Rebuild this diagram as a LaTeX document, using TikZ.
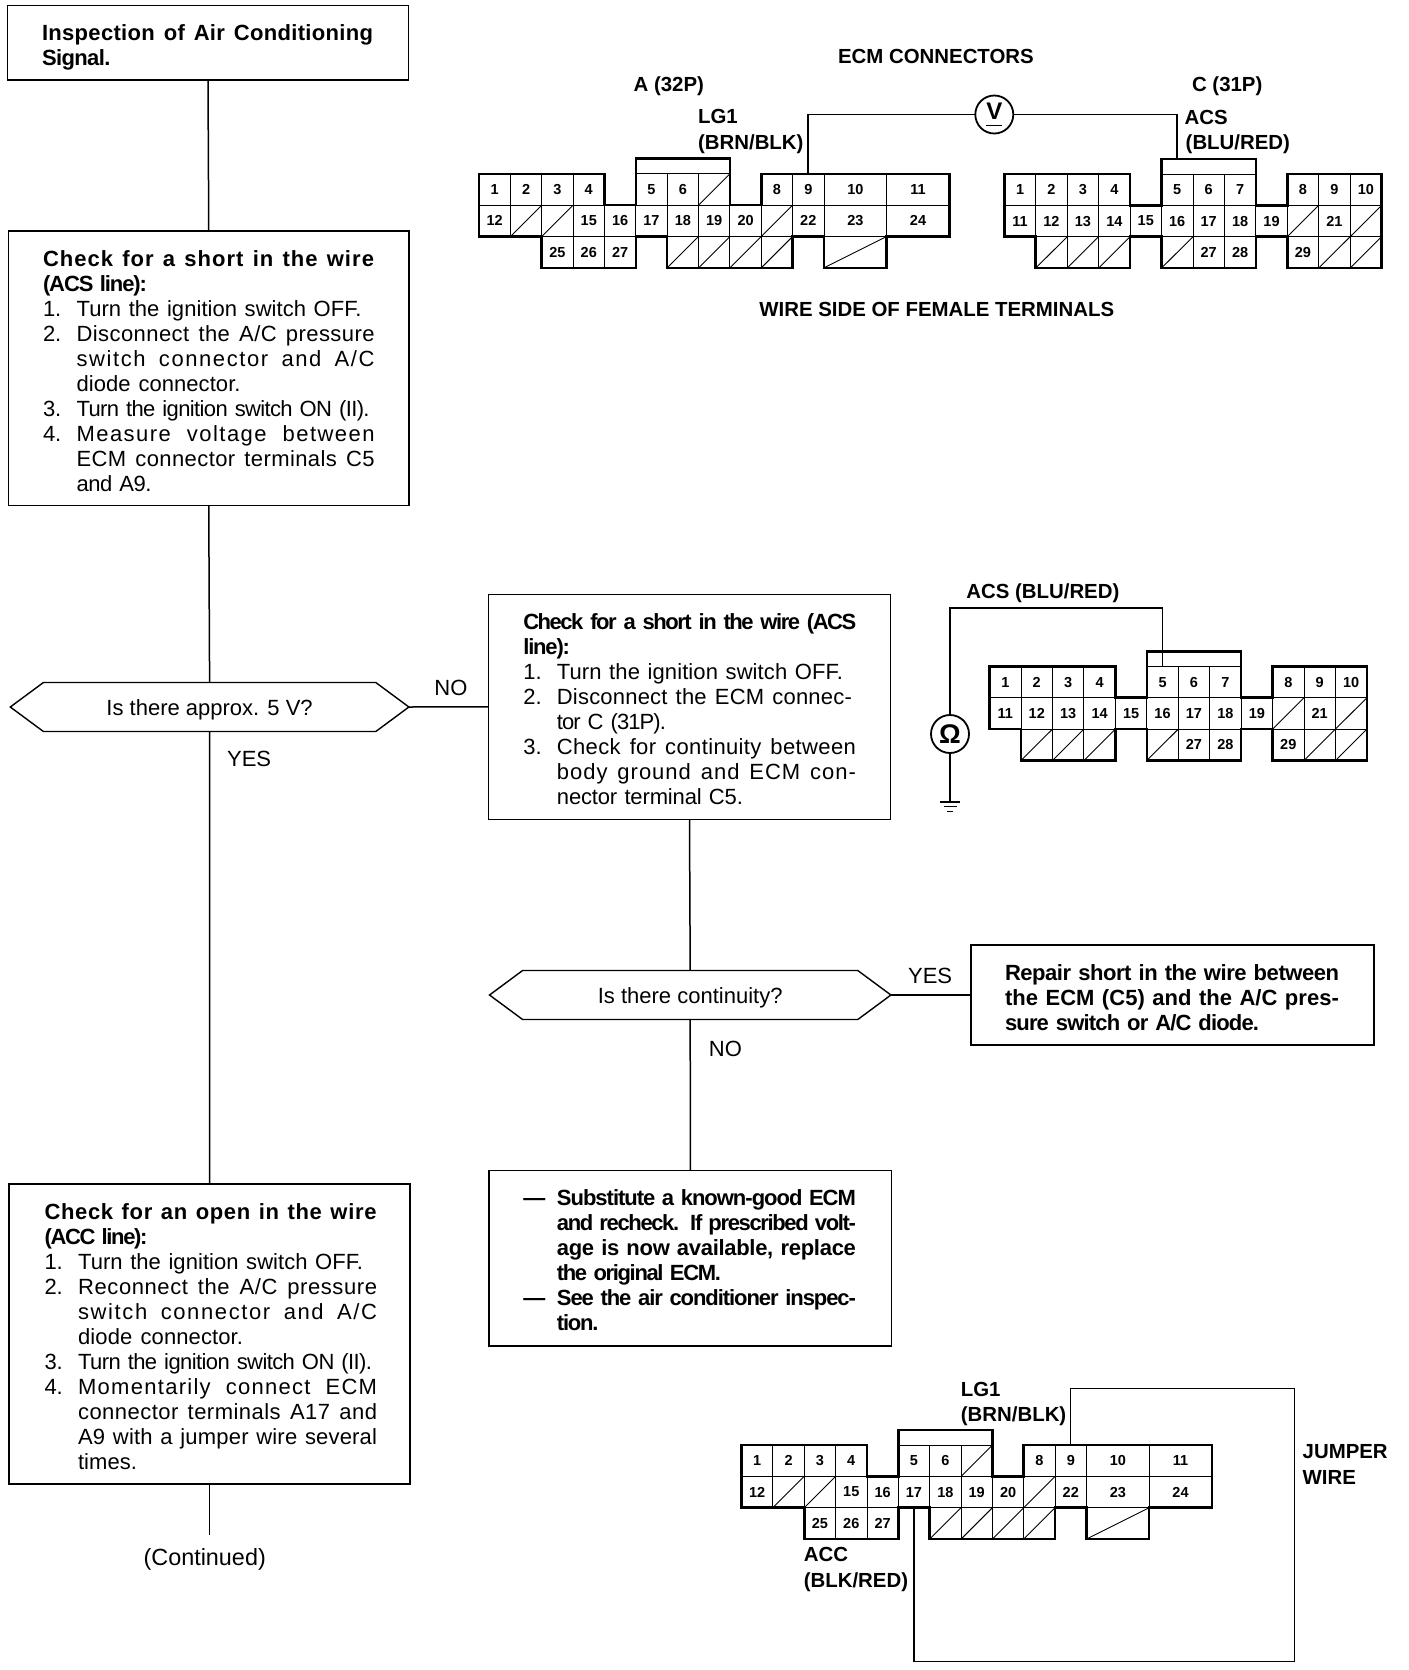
\documentclass[tikz,border=0pt]{standalone}
\usepackage{fontspec}
\setmainfont{Liberation Sans}
\usetikzlibrary{shapes.symbols}

\newcommand{\bodyfont}{\fontsize{11}{12.5}\selectfont}
\newcommand{\labelfont}{\bfseries\fontsize{10.2}{12.5}\selectfont}
\newlength\fitnat
\newlength\fitwide
\newlength\numwd
\setlength\numwd{16.8pt}
% one printed line, spaced out to a width in pixels: part in the letters, the rest in the word gaps
\newcommand{\fitline}[2]{\leavevmode
  \settowidth\fitnat{#2}%
  \settowidth\fitwide{\addfontfeature{LetterSpace=5}#2}%
  \pgfmathsetmacro\fitls{5*(#1*0.5-\fitnat)/(\fitwide-\fitnat)}%
  \pgfmathsetmacro\fitls{\fitls>0 ? 0.6*\fitls : 0.9*\fitls}%
  \hbox to #1\dimexpr 0.5pt\relax{\addfontfeature{LetterSpace=\fitls}\spaceskip=0.278em plus 1fil minus 1fil\relax #2}}
\newcommand{\numline}[3]{\leavevmode\makebox[\numwd][l]{#1}\fitline{#2}{#3}}
\newcommand{\contline}[2]{\leavevmode\hspace*{\numwd}\fitline{#1}{#2}}
\newcommand{\dashline}[2]{\leavevmode\makebox[\numwd][l]{—}\fitline{#1}{#2}}
\newcommand{\topgap}{\leavevmode\rule{0pt}{17.5pt}}
\newcommand{\botgap}[1]{\rule[-#1]{0pt}{#1}}

\tikzset{
  flowbox/.style={draw,line width=0.75pt,anchor=north west,inner ysep=0pt,outer sep=0pt,align=left,font=\bodyfont},
  decision/.style={draw,line width=0.7pt,shape=signal,signal to=west and east,signal pointer angle=73,
    minimum height=24.5pt,inner sep=0pt,outer sep=0pt,text height=8pt,text depth=0pt,font=\bodyfont},
  flowline/.style={line width=0.75pt},
  edgelabel/.style={anchor=base west,inner sep=0pt,font=\bodyfont},
  wirelabel/.style={anchor=base west,inner sep=0pt,font=\labelfont},
  meter/.style={draw,circle,line width=0.9pt,minimum size=19pt,inner sep=0pt,outer sep=0pt},
  wire/.style={line width=0.85pt},
  jumper/.style={line width=0.55pt},
  cellline/.style={line width=0.45pt},
  shell/.style={line width=1.3pt,line join=miter},
  pinlabel/.style={inner sep=0pt,font=\bfseries\fontsize{7.25}{8}\selectfont},
}

% connector A (32P)
\newcommand{\connA}[2]{%
  \begin{scope}[shift={#1},name prefix=#2-,x=15.68pt,y=-15.68pt]
    \draw[cellline] (0,1) -- (15,1);\draw[cellline] (5,0) -- (8,0);\draw[cellline] (2,2) -- (13,2);
    \foreach \c/\a/\b in {1/0/2,2/0/2,3/0/3,4/1/3,5/0/2,6/0/2,7/0/3,8/1/3,9/1/3,10/0/2,11/0/2,13/0/2}
      \draw[cellline] (\c,\a) -- (\c,\b);
    % crossed out cells
    \foreach \c/\r in {7/0,1/1,2/1,9/1,6/2,7/2,8/2,9/2}
      \draw[cellline] (\c,\r+1) -- (\c+1,\r);
    \draw[cellline] (11,3) -- (13,2);
    \draw[shell] (0,0) -- (4,0) -- (4,1) -- (5,1) -- (5,-0.48) -- (8,-0.48) -- (8,1) -- (9,1) -- (9,0) -- (15,0)
      -- (15,2) -- (13,2) -- (13,3) -- (11,3) -- (11,2) -- (10,2) -- (10,3) -- (6,3) -- (6,2) -- (5,2)
      -- (5,3) -- (2,3) -- (2,2) -- (0,2) -- cycle;
    % numbers
    \foreach \c/\r/\t in {0/0/1,1/0/2,2/0/3,3/0/4,5/0/5,6/0/6,9/0/8,10/0/9,11.5/0/10,13.5/0/11,
      0/1/12,3/1/15,4/1/16,5/1/17,6/1/18,7/1/19,8/1/20,10/1/22,11.5/1/23,13.5/1/24,2/2/25,3/2/26,4/2/27}
      \node[pinlabel] (c\t) at (\c+0.5,\r+0.5) {\t};
    \coordinate (pin9) at (10.5,0);
    \coordinate (pin17) at (5.5,2);
  \end{scope}}

% connector C (31P)
\newcommand{\connC}[2]{%
  \begin{scope}[shift={#1},name prefix=#2-,x=15.72pt,y=-15.68pt]
    \draw[cellline] (0,1) -- (12,1);\draw[cellline] (5,0) -- (8,0);\draw[cellline] (1,2) -- (12,2);
    \foreach \c/\a/\b in {1/0/2,2/0/3,3/0/3,4/1/2,5/1/2,6/0/3,7/0/3,8/1/2,9/1/2,10/0/3,11/0/3}
      \draw[cellline] (\c,\a) -- (\c,\b);
    % crossed out cells
    \foreach \c/\r in {9/1,11/1,1/2,2/2,3/2,5/2,10/2,11/2}
      \draw[cellline] (\c,\r+1) -- (\c+1,\r);
    \draw[shell] (0,0) -- (4,0) -- (4,1) -- (5,1) -- (5,-0.48) -- (8,-0.48) -- (8,1) -- (9,1) -- (9,0) -- (12,0)
      -- (12,3) -- (9,3) -- (9,2) -- (8,2) -- (8,3) -- (5,3) -- (5,2) -- (4,2) -- (4,3) -- (1,3) -- (1,2) -- (0,2) -- cycle;
    % numbers
    \foreach \c/\r/\t in {0/0/1,1/0/2,2/0/3,3/0/4,5/0/5,6/0/6,7/0/7,9/0/8,10/0/9,11/0/10,
      0/1/11,1/1/12,2/1/13,3/1/14,4/1/15,5/1/16,6/1/17,7/1/18,8/1/19,10/1/21,6/2/27,7/2/28,9/2/29}
      \node[pinlabel] (c\t) at (\c+0.5,\r+0.5) {\t};
    \coordinate (pin5) at (5.5,0);
    \coordinate (bump5) at (5.5,-0.48);
  \end{scope}}

\begin{document}
\begin{tikzpicture}[x=0.5pt,y=-0.5pt]
  \useasboundingbox (0,0) rectangle (1408,1670);

  % left column
  \node[flowbox,inner xsep=17.25pt,text width=166pt] (title) at (7.5,5.5)
    {\bfseries\topgap\fitline{331}{Inspection of Air Conditioning}\\\fitline{68}{Signal.}\botgap{7.25pt}};
  \node[flowbox,inner xsep=17.25pt,text width=165.75pt] (shortacs) at (8.5,231)
    {\topgap\textbf{\fitline{331}{Check for a short in the wire}}\\
     \textbf{\fitline{104}{(ACS line):}}\\
     \numline{1.}{285}{Turn the ignition switch OFF.}\\
     \numline{2.}{298}{Disconnect the A/C pressure}\\
     \contline{298}{switch connector and A/C}\\
     \contline{164}{diode connector.}\\
     \numline{3.}{293}{Turn the ignition switch ON (II).}\\
     \numline{4.}{298}{Measure voltage between}\\
     \contline{298}{ECM connector terminals C5}\\
     \contline{75}{and A9.}\botgap{7.25pt}};
  \node[decision,minimum width=199.3pt] (approx) at (209.6,707) {Is there approx. 5 V?};
  \node[flowbox,inner xsep=17.75pt,text width=165pt] (openacc) at (9,1184)
    {\topgap\textbf{\fitline{332}{Check for an open in the wire}}\\
     \textbf{\fitline{103}{(ACC line):}}\\
     \numline{1.}{285}{Turn the ignition switch OFF.}\\
     \numline{2.}{299}{Reconnect the A/C pressure}\\
     \contline{299}{switch connector and A/C}\\
     \contline{165}{diode connector.}\\
     \numline{3.}{294}{Turn the ignition switch ON (II).}\\
     \numline{4.}{299}{Momentarily connect ECM}\\
     \contline{299}{connector terminals A17 and}\\
     \contline{299}{A9 with a jumper wire several}\\
     \contline{59}{times.}\botgap{7.5pt}};
  \coordinate (stub) at (209.5,1535);
  \node[anchor=base,inner sep=0pt,font=\fontsize{11.7}{14}\selectfont] (continued) at (204.7,1565) {(Continued)};

  \draw[flowline] (title.south) -- (shortacs.north);
  \draw[flowline] (shortacs.south) -- (approx.north);
  \draw[flowline] (approx.south) -- (openacc.north);
  \draw[flowline] (openacc.south) -- (stub);
  \node[edgelabel] (yesone) at (226.7,766.7) {YES};
  \node[edgelabel] (noone) at (434,695.7) {NO};

  % middle column
  \node[flowbox,inner xsep=17.5pt,text width=166.2pt] (shortecm) at (488.3,594.3)
    {\topgap\textbf{\fitline{333}{Check for a short in the wire (ACS}}\\
     \textbf{\fitline{46}{line):}}\\
     \numline{1.}{286}{Turn the ignition switch OFF.}\\
     \numline{2.}{295}{Disconnect the ECM connec-}\\
     \contline{109}{tor C (31P).}\\
     \numline{3.}{299}{Check for continuity between}\\
     \contline{299}{body ground and ECM con-}\\
     \contline{186}{nector terminal C5.}\botgap{7.5pt}};
  \node[decision,minimum width=200.7pt] (contin) at (690.2,995) {Is there continuity?};
  \node[flowbox,inner xsep=17.1pt,text width=167.3pt] (repair) at (970.8,945)
    {\bfseries\topgap\fitline{334}{Repair short in the wire between}\\
     \fitline{334}{the ECM (C5) and the A/C pres-}\\
     \fitline{254}{sure switch or A/C diode.}\botgap{7.5pt}};
  \node[flowbox,inner xsep=17.15pt,text width=167.05pt] (substitute) at (489,1170.7)
    {\bfseries\topgap\dashline{299}{Substitute a known-good ECM}\\
     \contline{299}{and recheck. If prescribed volt-}\\
     \contline{299}{age is now available, replace}\\
     \contline{164}{the original ECM.}\\
     \dashline{299}{See the air conditioner inspec-}\\
     \contline{41}{tion.}\botgap{7.65pt}};

  \draw[flowline] (approx.east) -- (shortecm.west);
  \draw[flowline] (shortecm.south) -- (contin.north);
  \draw[flowline] (contin.east) -- (repair.west);
  \draw[flowline] (contin.south) -- (substitute.north);
  \node[edgelabel] (yestwo) at (907.7,983) {YES};
  \node[edgelabel] (notwo) at (708.5,1056) {NO};

  % ecm connectors, top
  \connA{(479,173.8)}{topa}
  \connC{(1004.3,174)}{topc}
  \node[meter,font=\bfseries\fontsize{12}{14}\selectfont] (vmeter) at (994.3,114.5) {\underline{V\rule[-1.5pt]{0pt}{0pt}}};
  \draw[wire] (topa-pin9) |- (vmeter.west);
  \draw[wire] (vmeter.east) -| (topc-bump5);
  \node[wirelabel] (ecmtitle) at (837.7,63.3) {ECM CONNECTORS};
  \node[wirelabel] (atitle) at (633.3,91) {A (32P)};
  \node[wirelabel] (ctitle) at (1191.7,91) {C (31P)};
  \node[wirelabel] (lgone) at (697.7,123.3) {LG1};
  \node[wirelabel] (lgonecol) at (697.7,149) {(BRN/BLK)};
  \node[wirelabel] (acs) at (1184.3,124.3) {ACS};
  \node[wirelabel] (acscol) at (1185.3,149) {(BLU/RED)};
  \node[wirelabel] (wireside) at (759,316.7) {WIRE SIDE OF FEMALE TERMINALS};

  % continuity check
  \connC{(989.6,666.4)}{mid}
  \node[meter,font=\bfseries\fontsize{13.5}{15}\selectfont] (ohm) at (950,734) {Ω};
  \coordinate (gnd) at (950,801.7);
  \draw[wire] (mid-pin5) |- (950,608.3) -- (ohm.north);
  \draw[wire] (ohm.south) -- (gnd);
  \draw[wire] (940,801.7) -- (960,801.7);
  \draw[wire] (943.5,806.5) -- (956.5,806.5);
  \draw[wire] (947,811.5) -- (953,811.5);
  \node[wirelabel] (acsmid) at (966,598.5) {ACS (BLU/RED)};

  % jumper wire
  \connA{(741.5,1445)}{bot}
  \coordinate (jumpne) at (1294.8,1388.3);
  \coordinate (jumpse) at (1294.8,1661.7);
  \draw[jumper] (bot-pin9) |- (jumpne) -- (jumpse) -| (bot-pin17);
  \node[wirelabel] (lgbot) at (960.5,1396) {LG1};
  \node[wirelabel] (lgbotcol) at (960.5,1421.7) {(BRN/BLK)};
  \node[wirelabel] (acc) at (803.4,1561.7) {ACC};
  \node[wirelabel] (acccol) at (803.4,1587.3) {(BLK/RED)};
  \node[wirelabel] (jumpone) at (1302.3,1458.3) {JUMPER};
  \node[wirelabel] (jumptwo) at (1302.3,1484.3) {WIRE};
\end{tikzpicture}
\end{document}
